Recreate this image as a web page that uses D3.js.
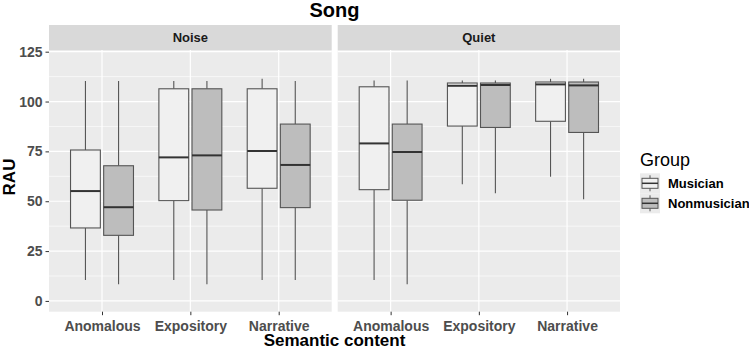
<!DOCTYPE html>
<html>
<head>
    <title>Song boxplots</title>
    <script src="https://d3js.org/d3.v7.min.js"></script>
    <style>
        body { margin: 0; background: #fff; }
        text { font-family: "Liberation Sans", Arial, sans-serif; }
    </style>
</head>
<body>
    <script>
        // Data: [lower whisker, Q1, median, Q3, upper whisker]
        const facets = ["Noise", "Quiet"];
        const categories = ["Anomalous", "Expository", "Narrative"];
        const groups = ["Musician", "Nonmusician"];
        const yTicks = [0, 25, 50, 75, 100, 125];

        const noiseMusician    = [[10.5, 36.6, 55.1, 75.7, 110.3], [10.5, 50.3, 72.0, 106.4, 110.3], [10.5, 56.5, 75.2, 106.4, 111.4]];
        const noiseNonmusician = [[8.4, 32.9, 47.0, 67.8, 110.3], [8.4, 45.6, 73.0, 106.4, 110.3], [10.5, 46.8, 68.2, 88.7, 110.3]];
        const quietMusician    = [[10.5, 55.8, 79.0, 107.4, 110.6], [58.5, 87.7, 107.9, 109.3, 110.6], [62.3, 90.1, 108.6, 109.8, 111.4]];
        const quietNonmusician = [[8.4, 50.5, 74.7, 88.7, 110.6], [54.0, 87.0, 108.3, 109.3, 110.6], [51.0, 84.5, 108.1, 109.8, 111.4]];

        const series = {
            Noise: { Musician: noiseMusician, Nonmusician: noiseNonmusician },
            Quiet: { Musician: quietMusician, Nonmusician: quietNonmusician }
        };

        const fills = { Musician: "#f0f0f0", Nonmusician: "#bdbdbd" };

        const width = 749, height = 350;
        const panelTop = 50, panelBottom = 311.7, stripH = 25;
        const panels = [{ x0: 49, x1: 331.7 }, { x0: 337.7, x1: 620 }];

        const svg = d3.select("body")
          .append("svg")
            .attr("width", width)
            .attr("height", height);

        const y = d3.scaleLinear()
          .domain([-5.4, 125.85])
          .range([panelBottom, panelTop]);

        const tickGrey = "#4d4d4d";

        facets.forEach(function(facet, fi) {
            const p = panels[fi];
            const x = d3.scalePoint()
              .domain(categories)
              .range([p.x0, p.x1])
              .padding(0.6);
            const step = x.step();
            const dodge = d3.scaleBand()
              .domain(groups)
              .range([-0.375 * step, 0.375 * step]);
            const boxW = dodge.bandwidth() * 0.9;

            // strip
            svg.append("rect")
              .attr("x", p.x0).attr("y", panelTop - stripH)
              .attr("width", p.x1 - p.x0).attr("height", stripH)
              .attr("fill", "#d9d9d9");
            svg.append("text")
              .attr("x", (p.x0 + p.x1) / 2).attr("y", panelTop - stripH / 2)
              .attr("dy", "0.35em")
              .attr("text-anchor", "middle")
              .style("font-size", "13px").style("font-weight", "bold")
              .attr("fill", "#1a1a1a")
              .text(facet);

            // panel background
            const g = svg.append("g");
            g.append("rect")
              .attr("x", p.x0).attr("y", panelTop)
              .attr("width", p.x1 - p.x0).attr("height", panelBottom - panelTop)
              .attr("fill", "#ebebeb");

            // minor gridlines
            g.selectAll(".minor")
              .data(yTicks.slice(0, -1).map(d => d + 12.5))
              .enter().append("line")
                .attr("x1", p.x0).attr("x2", p.x1)
                .attr("y1", d => y(d)).attr("y2", d => y(d))
                .attr("stroke", "#fff").attr("stroke-width", 0.6);
            // major gridlines
            g.selectAll(".major")
              .data(yTicks)
              .enter().append("line")
                .attr("x1", p.x0).attr("x2", p.x1)
                .attr("y1", d => y(d)).attr("y2", d => y(d))
                .attr("stroke", "#fff").attr("stroke-width", 1.2);
            g.selectAll(".vmajor")
              .data(categories)
              .enter().append("line")
                .attr("x1", d => x(d)).attr("x2", d => x(d))
                .attr("y1", panelTop).attr("y2", panelBottom)
                .attr("stroke", "#fff").attr("stroke-width", 1.2);

            // boxes
            groups.forEach(function(grp) {
                const vals = series[facet][grp];
                categories.forEach(function(cat, ci) {
                    const v = vals[ci];
                    const cx = x(cat) + dodge(grp) + dodge.bandwidth() / 2;
                    g.append("line")
                      .attr("x1", cx).attr("x2", cx)
                      .attr("y1", y(v[3])).attr("y2", y(v[4]))
                      .attr("stroke", "#555").attr("stroke-width", 1.1);
                    g.append("line")
                      .attr("x1", cx).attr("x2", cx)
                      .attr("y1", y(v[0])).attr("y2", y(v[1]))
                      .attr("stroke", "#555").attr("stroke-width", 1.1);
                    g.append("rect")
                      .attr("x", cx - boxW / 2).attr("y", y(v[3]))
                      .attr("width", boxW).attr("height", y(v[1]) - y(v[3]))
                      .attr("fill", fills[grp])
                      .attr("stroke", "#555").attr("stroke-width", 1.1);
                    g.append("line")
                      .attr("x1", cx - boxW / 2).attr("x2", cx + boxW / 2)
                      .attr("y1", y(v[2])).attr("y2", y(v[2]))
                      .attr("stroke", "#333").attr("stroke-width", 2);
                });
            });

            // x axis
            const xa = svg.append("g")
              .attr("transform", `translate(0,${panelBottom})`)
              .call(d3.axisBottom(x).tickSize(3.5).tickPadding(6));
            xa.select(".domain").remove();
            xa.selectAll(".tick line").attr("stroke", "#333");
            xa.selectAll(".tick text")
              .attr("fill", tickGrey)
              .style("font-size", "14px").style("font-weight", "bold")
              .style("font-family", "'Liberation Sans', Arial, sans-serif");
        });

        // y axis
        const ya = svg.append("g")
          .attr("transform", `translate(${panels[0].x0},0)`)
          .call(d3.axisLeft(y).tickValues(yTicks).tickSize(3.5).tickPadding(3));
        ya.select(".domain").remove();
        ya.selectAll(".tick line").attr("stroke", "#333");
        ya.selectAll(".tick text")
          .attr("fill", tickGrey)
          .style("font-size", "14px").style("font-weight", "bold")
          .style("font-family", "'Liberation Sans', Arial, sans-serif");

        // title
        svg.append("text")
          .attr("x", (panels[0].x0 + panels[1].x1) / 2).attr("y", 17)
          .attr("text-anchor", "middle")
          .style("font-size", "20px").style("font-weight", "bold")
          .text("Song");

        // axis titles
        svg.append("text")
          .attr("x", (panels[0].x0 + panels[1].x1) / 2).attr("y", 346)
          .attr("text-anchor", "middle")
          .style("font-size", "17px").style("font-weight", "bold")
          .text("Semantic content");

        svg.append("text")
          .attr("transform", "translate(15,177) rotate(-90)")
          .attr("text-anchor", "middle")
          .style("font-size", "17px").style("font-weight", "bold")
          .text("RAU");

        // legend
        const lg = svg.append("g").attr("transform", "translate(640,0)");
        lg.append("text")
          .attr("x", 0).attr("y", 166)
          .style("font-size", "18px")
          .text("Group");
        groups.forEach(function(grp, i) {
            const ky = 173.3 + i * 20;
            lg.append("rect")
              .attr("x", 0).attr("y", ky).attr("width", 20).attr("height", 20)
              .attr("fill", "#ebebeb");
            lg.append("line")
              .attr("x1", 10).attr("x2", 10).attr("y1", ky + 2).attr("y2", ky + 18)
              .attr("stroke", "#555").attr("stroke-width", 1);
            lg.append("rect")
              .attr("x", 2).attr("y", ky + 5).attr("width", 16).attr("height", 10)
              .attr("fill", fills[grp]).attr("stroke", "#555").attr("stroke-width", 1);
            lg.append("line")
              .attr("x1", 2).attr("x2", 18).attr("y1", ky + 10).attr("y2", ky + 10)
              .attr("stroke", "#333").attr("stroke-width", 1.5);
            lg.append("text")
              .attr("x", 28).attr("y", ky + 10).attr("dy", "0.35em")
              .style("font-size", "13px").style("font-weight", "bold")
              .text(grp);
        });
    </script>
</body>
</html>
